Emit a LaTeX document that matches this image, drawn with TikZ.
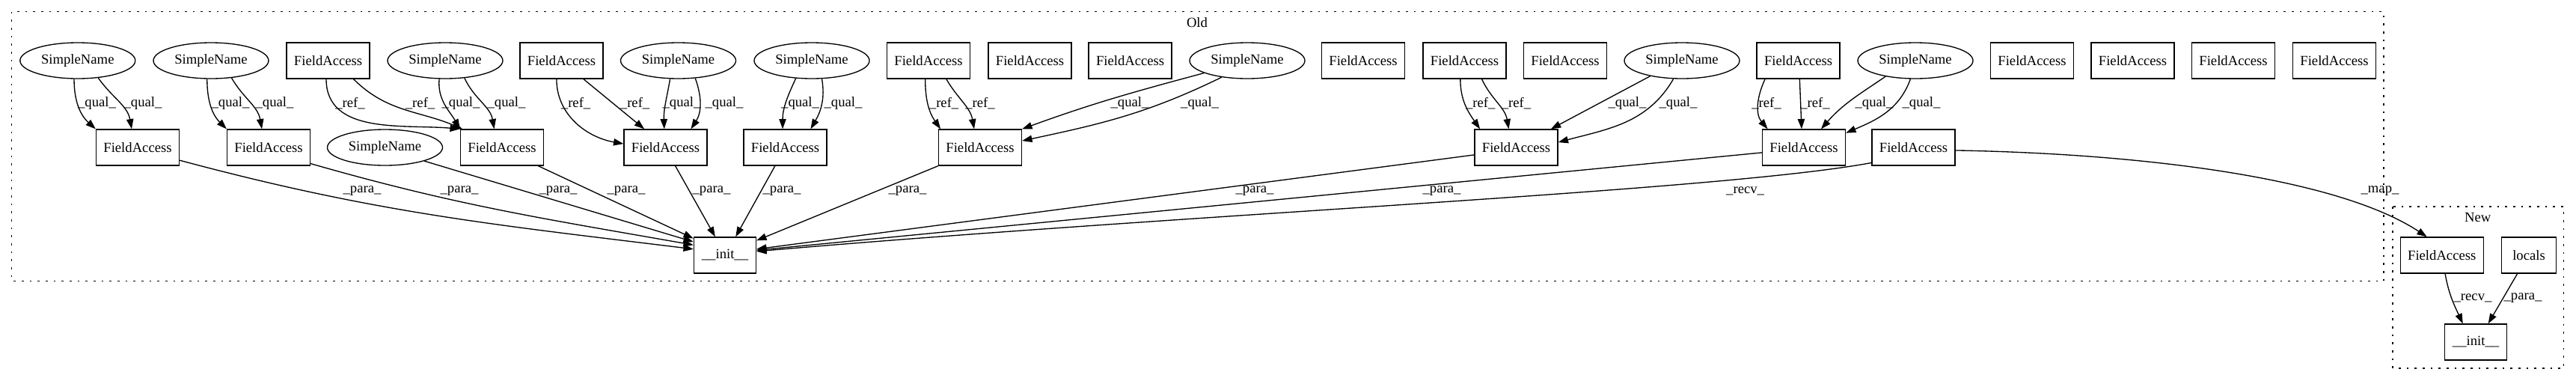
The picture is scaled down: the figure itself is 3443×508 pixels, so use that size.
\documentclass[tikz,border=0pt]{standalone}
\usepackage{fontspec}
\setmainfont{Liberation Serif}
\usetikzlibrary{arrows.meta,shapes.geometric}

\begin{document}
\begin{tikzpicture}[
                        ->,
                        >={Triangle[length=10pt,width=7pt]},
                        x=0.75pt,
                        y=-0.75pt,
                        line width=1pt,
                        font=\fontsize{14pt}{16pt}\selectfont
                    ]
                    \tikzstyle{every node}=[inner sep=0pt]
                    \tikzstyle{fa}=[draw, rectangle, minimum width=83.25pt, minimum height=36pt]
                    \tikzstyle{sn}=[draw, ellipse, minimum width=115.5pt, minimum height=36pt]
                    \tikzstyle{cluster}=[-, draw, dash pattern=on 2pt off 6pt]

                    \useasboundingbox (0,0) rectangle (3443,508);
                    \draw[cluster] (15.6,15.7) rectangle (3186,375.7);
                    \draw[cluster] (3197.8,276) rectangle (3426.4,492);
                    \node (old) at (1600,30)    {Old};
                    \node (new) at (3311.6,290) {New};

                    \node[sn] (sn1)  at (103.8,81)  {SimpleName};
                    \node[sn] (sn2)  at (282,81)    {SimpleName};
                    \node[fa] (fa1)  at (438.6,81)  {FieldAccess};
                    \node[sn] (sn3)  at (595,81)    {SimpleName};
                    \node[fa] (fa2)  at (750.5,81)  {FieldAccess};
                    \node[sn] (sn4)  at (906.5,81)  {SimpleName};
                    \node[sn] (sn5)  at (1085,81)   {SimpleName};
                    \node[fa] (fa3)  at (1241,81)   {FieldAccess};
                    \node[fa] (fa4)  at (1376.5,81) {FieldAccess};
                    \node[fa] (fa5)  at (1510.6,81) {FieldAccess};
                    \node[sn] (sn6)  at (1667,81)   {SimpleName};
                    \node[fa] (fa6)  at (1822,81)   {FieldAccess};
                    \node[fa] (fa7)  at (1957.5,81) {FieldAccess};
                    \node[fa] (fa8)  at (2092,81)   {FieldAccess};
                    \node[sn] (sn7)  at (2248,81)   {SimpleName};
                    \node[fa] (fa9)  at (2403.6,81) {FieldAccess};
                    \node[sn] (sn8)  at (2560,81)   {SimpleName};
                    \node[fa] (fa10) at (2716,81)   {FieldAccess};
                    \node[fa] (fa11) at (2850.5,81) {FieldAccess};
                    \node[fa] (fa12) at (2985,81)   {FieldAccess};
                    \node[fa] (fa13) at (3120,81)   {FieldAccess};

                    \node[fa] (fb1) at (184,197)    {FieldAccess};
                    \node[fa] (fb2) at (359,197)    {FieldAccess};
                    \node[sn] (snb) at (514.5,197)  {SimpleName};
                    \node[fa] (fb3) at (671,197)    {FieldAccess};
                    \node[fa] (fb4) at (889.5,197)  {FieldAccess};
                    \node[fa] (fb5) at (1049.5,197) {FieldAccess};
                    \node[fa] (fb6) at (1310,197)   {FieldAccess};
                    \node[fa] (fb7) at (2026.5,197) {FieldAccess};
                    \node[fa] (fb8) at (2411,197)   {FieldAccess};
                    \node[fa] (fb9) at (2557.5,197) {FieldAccess};

                    \node[fa, minimum width=62.25pt] (init)  at (969,341)    {\_\_init\_\_};
                    \node[fa]                        (nfa)   at (3263.7,341) {FieldAccess};
                    \node[fa, minimum width=54.75pt] (loc)   at (3380,341)   {locals};
                    \node[fa, minimum width=62pt]    (ninit) at (3309,457)   {\_\_init\_\_};

                    \path
                    (sn1.-101)  edge [out=-90,in=138]  (fb1.north west)
                    (sn1.-40)   edge [out=-55,in=100]  (fb1.108)
                    (sn2.-102)  edge [out=-90,in=135]  (fb2.north west)
                    (sn2.-40)   edge [out=-60,in=100]  (fb2.110)
                    (fa1.-96)   edge [out=-90,in=175]  (fb3.north west)
                    (fa1.-36.5) edge [out=-45,in=157]  (fb3.155)
                    (sn3.-108)  edge [out=-95,in=120]  (fb3.north west)
                    (sn3.-42)   edge [out=-65,in=100]  (fb3.113)
                    (fa2.-105)  edge [out=-90,in=170]  (fb4.175)
                    (fa2.-40)   edge                   (fb4.139)
                    (sn4.-114)  edge [out=-100,in=92]  (fb4.94)
                    (sn4.-46)   edge [out=-70,in=57]   (fb4.36)
                    (sn5.-132)  edge [out=-115,in=90]  (fb5.98)
                    (sn5.-61)   edge [out=-80,in=60]   (fb5.36)
                    (fa3.-100)  edge [out=-90,in=125]  (fb6.155)
                    (fa3.-46)   edge [out=-60,in=100]  (fb6.108)
                    (sn6.-164)  edge [out=195,in=20]   (fb6.north east)
                    (sn6.-147)  edge [out=-154,in=12]  (fb6.9)
                    (fa7.-103)  edge [out=-90,in=125]  (fb7.153)
                    (fa7.-47)   edge [out=-65,in=100]  (fb7.112)
                    (sn7.-154)  edge                   (fb7.28)
                    (sn7.-115)  edge [out=-120,in=15]  (fb7.7)
                    (fa9.-151)  edge [out=-115,in=130] (fb8.153)
                    (fa9.-86)   edge                   (fb8.97)
                    (sn8.-152)  edge [out=-146,in=49]  (fb8.47)
                    (sn8.-105)  edge [out=-110,in=23]  (fb8.19)
                    (fb1.-17)   edge [out=-15,in=173]  (init.169)
                    (fb2.-21)   edge [out=-16,in=170]  (init.162)
                    (snb.-19)   edge                   (init.157)
                    (fb3.-27)   edge                   (init.152)
                    (fb4.-62)   edge                   (init.118)
                    (fb5.-119)  edge                   (init.60)
                    (fb6.south west) edge              (init.25)
                    (fb7.190)   edge                   (init.11)
                    (fb8.187)   edge                   (init.9)
                    (nfa.-80)   edge [out=-80,in=115]  (ninit.125)
                    (loc.-122)  edge                   (ninit.56) ;

                    \draw (fb9.200) .. controls (2300,255) and (1600,285) .. (init.7);
                    \draw (fb9.-4) .. controls (2850,205) and (3120,235) .. (nfa.129);

                    \node (lq1)  at (129.5,138)  {\_qual\_};
                    \node (lq2)  at (191,138)    {\_qual\_};
                    \node (lq3)  at (308,138)    {\_qual\_};
                    \node (lq4)  at (367,138)    {\_qual\_};
                    \node (lr1)  at (468,138)    {\_ref\_};
                    \node (lr2)  at (561.6,138)  {\_ref\_};
                    \node (lq5)  at (616,138)    {\_qual\_};
                    \node (lq6)  at (677,138)    {\_qual\_};
                    \node (lr3)  at (769.6,138)  {\_ref\_};
                    \node (lr4)  at (848.6,138)  {\_ref\_};
                    \node (lq7)  at (911,138)    {\_qual\_};
                    \node (lq8)  at (968,138)    {\_qual\_};
                    \node (lq9)  at (1069.6,138) {\_qual\_};
                    \node (lq10) at (1127,138)   {\_qual\_};
                    \node (lr5)  at (1261.6,138) {\_ref\_};
                    \node (lr6)  at (1310,138)   {\_ref\_};
                    \node (lq11) at (1510,138)   {\_qual\_};
                    \node (lq12) at (1603.6,138) {\_qual\_};
                    \node (lr7)  at (1978.7,138) {\_ref\_};
                    \node (lr8)  at (2026.5,138) {\_ref\_};
                    \node (lq13) at (2175,138)   {\_qual\_};
                    \node (lq14) at (2243,138)   {\_qual\_};
                    \node (lr9)  at (2361,138)   {\_ref\_};
                    \node (lr10) at (2426,138)   {\_ref\_};
                    \node (lq15) at (2505,138)   {\_qual\_};
                    \node (lq16) at (2568,138)   {\_qual\_};

                    \node (lp1)  at (484,255)    {\_para\_};
                    \node (lp2)  at (614,255)    {\_para\_};
                    \node (lp3)  at (746,255)    {\_para\_};
                    \node (lp4)  at (837,255)    {\_para\_};
                    \node (lp5)  at (951,255)    {\_para\_};
                    \node (lp6)  at (1045,255)   {\_para\_};
                    \node (lp7)  at (1213,255)   {\_para\_};
                    \node (lp8)  at (1677,255)   {\_para\_};
                    \node (lp9)  at (1927,255)   {\_para\_};
                    \node (lv1)  at (2332.6,255) {\_recv\_};
                    \node (lm1)  at (3181,255)   {\_map\_};
                    \node (lv2)  at (3305,398)   {\_recv\_};
                    \node (lp10) at (3372,398)   {\_para\_};
\end{tikzpicture}
\end{document}
